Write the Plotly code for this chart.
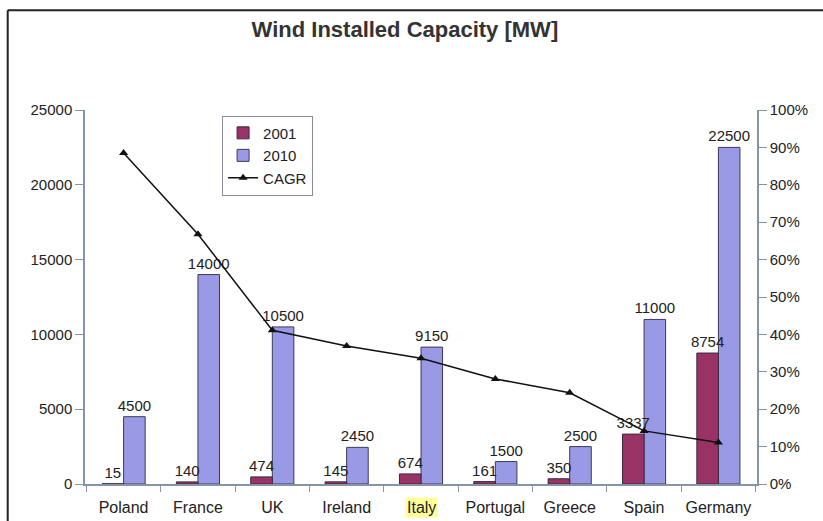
import plotly.graph_objects as go

countries = ["Poland", "France", "UK", "Ireland", "Italy", "Portugal", "Greece", "Spain", "Germany"]
cap_2001 = [15, 140, 474, 145, 674, 161, 350, 3337, 8754]
cap_2010 = [4500, 14000, 10500, 2450, 9150, 1500, 2500, 11000, 22500]
cagr = [88.5, 66.8, 41.1, 36.9, 33.6, 28.1, 24.4, 14.2, 11.1]
left_ticks = [0, 5000, 10000, 15000, 20000, 25000]
left_tick_labels = ["0", "5000", "10000", "15000", "20000", "25000"]
right_ticks = [0, 10, 20, 30, 40, 50, 60, 70, 80, 90, 100]
right_tick_labels = ["0%", "10%", "20%", "30%", "40%", "50%", "60%", "70%", "80%", "90%", "100%"]
highlighted = "Italy"

FONT = "Liberation Sans, Arial, sans-serif"
AXIS_COLOR = "#8595a6"
TEXT_COLOR = "#222222"
BAR_W = 0.29

fig = go.Figure()
# 2010 drawn first so the 2001 labels sit on top of it
fig.add_trace(go.Bar(
    x=countries, y=cap_2010, name="2010", legendrank=2,
    width=BAR_W, offset=0,
    marker=dict(color="#9999e6", line=dict(color="#3a3a5a", width=1)),
    text=[str(v) for v in cap_2010], textposition="outside", constraintext="none",
    textfont=dict(size=15, color=TEXT_COLOR, family=FONT),
    cliponaxis=False,
))
fig.add_trace(go.Bar(
    x=countries, y=cap_2001, name="2001", legendrank=1,
    width=BAR_W, offset=-BAR_W,
    marker=dict(color="#993366", line=dict(color="#3a2a40", width=1)),
    text=[str(v) for v in cap_2001], textposition="outside", constraintext="none",
    textfont=dict(size=15, color=TEXT_COLOR, family=FONT),
    cliponaxis=False,
))
fig.add_trace(go.Scatter(
    x=countries, y=cagr, name="CAGR", yaxis="y2", legendrank=3,
    mode="lines+markers",
    line=dict(color="#111111", width=1.5),
    marker=dict(symbol="triangle-up", size=8, color="#111111"),
    cliponaxis=False,
))

frame_line = dict(color="#222222", width=2)

fig.update_layout(
    width=823, height=521,
    margin=dict(l=85, r=66, t=110, b=37, autoexpand=False),
    paper_bgcolor="white", plot_bgcolor="white",
    font=dict(family=FONT, size=15, color=TEXT_COLOR),
    title=dict(text="<b>Wind Installed Capacity [MW]</b>", x=0.492, xanchor="center",
               y=0.943, yanchor="middle", font=dict(size=22, color="#333333", family=FONT)),
    barmode="overlay",
    showlegend=True,
    legend=dict(x=0.204, y=0.985, xanchor="left", yanchor="top",
                bgcolor="white", bordercolor="#8a8a9a", borderwidth=1,
                font=dict(size=15, color=TEXT_COLOR, family=FONT),
                tracegroupgap=0, itemwidth=30),
    xaxis=dict(
        type="category", showline=True, linecolor=AXIS_COLOR, linewidth=1.5,
        ticks="outside", tickson="boundaries", ticklen=6, tickcolor=AXIS_COLOR,
        tickmode="array", tickvals=countries,
        ticktext=["" if c == highlighted else c for c in countries],
        tickangle=0, ticklabelstandoff=8, automargin=False,
        showgrid=False, tickfont=dict(size=16, color=TEXT_COLOR),
    ),
    yaxis=dict(
        range=[0, 25000], tickvals=left_ticks, ticktext=left_tick_labels,
        showline=True, linecolor=AXIS_COLOR, automargin=False,
        linewidth=1.5, ticks="outside", ticklen=8, tickcolor=AXIS_COLOR,
        showgrid=False, zeroline=False, tickfont=dict(size=15, color=TEXT_COLOR),
    ),
    yaxis2=dict(
        range=[0, 100], tickvals=right_ticks, ticktext=right_tick_labels,
        overlaying="y", side="right", automargin=False,
        showline=True, linecolor=AXIS_COLOR, linewidth=1.5, ticks="outside", ticklen=8,
        tickcolor=AXIS_COLOR, showgrid=False, zeroline=False,
        tickfont=dict(size=15, color=TEXT_COLOR),
    ),
    shapes=[
        dict(type="line", xref="paper", yref="paper", x0=-0.115, x1=-0.115, y0=-0.3, y1=1.267,
             line=frame_line, layer="below"),
        dict(type="line", xref="paper", yref="paper", x0=-0.115, x1=1.3, y0=1.267, y1=1.267,
             line=frame_line, layer="below"),
    ],
    annotations=[dict(x=highlighted, xref="x", y=0, yref="paper", yanchor="top", yshift=-13,
                      text=highlighted, showarrow=False, bgcolor="#ffff99", borderpad=1,
                      font=dict(size=16, color=TEXT_COLOR, family=FONT))],
)

fig.write_html("out.html", config={"displayModeBar": False},
               post_script="document.body.style.margin='0px';document.body.style.overflow='hidden';")
